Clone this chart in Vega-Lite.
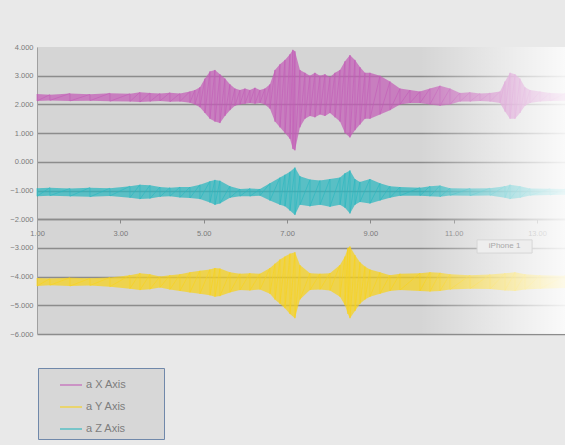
{
  "$schema": "https://vega.github.io/schema/vega-lite/v6.json",
  "width": 528,
  "height": 287,
  "autosize": {"type": "none"},
  "padding": {"left": 37, "top": 47, "right": 0, "bottom": 111},
  "background": "#e9e9e9",
  "config": {
    "font": "Liberation Sans",
    "view": {"stroke": null, "fill": "#d5d5d5"}
  },
  "datasets": {
    "signals": [
      {"s": "a X Axis", "t": 1.00, "hi": 2.36, "lo": 2.12},
      {"s": "a X Axis", "t": 1.31, "hi": 2.34, "lo": 2.14},
      {"s": "a X Axis", "t": 1.79, "hi": 2.38, "lo": 2.12},
      {"s": "a X Axis", "t": 2.27, "hi": 2.35, "lo": 2.13},
      {"s": "a X Axis", "t": 2.75, "hi": 2.39, "lo": 2.11},
      {"s": "a X Axis", "t": 3.23, "hi": 2.37, "lo": 2.10},
      {"s": "a X Axis", "t": 3.47, "hi": 2.42, "lo": 2.08},
      {"s": "a X Axis", "t": 3.71, "hi": 2.40, "lo": 2.10},
      {"s": "a X Axis", "t": 3.95, "hi": 2.38, "lo": 2.12},
      {"s": "a X Axis", "t": 4.19, "hi": 2.41, "lo": 2.09},
      {"s": "a X Axis", "t": 4.43, "hi": 2.38, "lo": 2.10},
      {"s": "a X Axis", "t": 4.67, "hi": 2.45, "lo": 2.06},
      {"s": "a X Axis", "t": 4.79, "hi": 2.50, "lo": 2.00},
      {"s": "a X Axis", "t": 4.91, "hi": 2.60, "lo": 1.90},
      {"s": "a X Axis", "t": 5.03, "hi": 2.90, "lo": 1.70},
      {"s": "a X Axis", "t": 5.15, "hi": 3.15, "lo": 1.50},
      {"s": "a X Axis", "t": 5.27, "hi": 3.20, "lo": 1.40},
      {"s": "a X Axis", "t": 5.39, "hi": 3.05, "lo": 1.35},
      {"s": "a X Axis", "t": 5.51, "hi": 2.90, "lo": 1.60},
      {"s": "a X Axis", "t": 5.63, "hi": 2.70, "lo": 1.80},
      {"s": "a X Axis", "t": 5.75, "hi": 2.55, "lo": 1.95},
      {"s": "a X Axis", "t": 5.87, "hi": 2.50, "lo": 2.00},
      {"s": "a X Axis", "t": 5.99, "hi": 2.55, "lo": 2.02},
      {"s": "a X Axis", "t": 6.11, "hi": 2.50, "lo": 2.05},
      {"s": "a X Axis", "t": 6.23, "hi": 2.58, "lo": 2.02},
      {"s": "a X Axis", "t": 6.35, "hi": 2.50, "lo": 2.05},
      {"s": "a X Axis", "t": 6.47, "hi": 2.55, "lo": 2.00},
      {"s": "a X Axis", "t": 6.59, "hi": 2.70, "lo": 1.85},
      {"s": "a X Axis", "t": 6.71, "hi": 3.20, "lo": 1.40},
      {"s": "a X Axis", "t": 6.83, "hi": 3.40, "lo": 1.20},
      {"s": "a X Axis", "t": 6.95, "hi": 3.55, "lo": 1.00},
      {"s": "a X Axis", "t": 7.07, "hi": 3.75, "lo": 0.80},
      {"s": "a X Axis", "t": 7.14, "hi": 3.90, "lo": 0.45},
      {"s": "a X Axis", "t": 7.19, "hi": 3.85, "lo": 0.40},
      {"s": "a X Axis", "t": 7.31, "hi": 3.20, "lo": 1.20},
      {"s": "a X Axis", "t": 7.43, "hi": 3.10, "lo": 1.50},
      {"s": "a X Axis", "t": 7.55, "hi": 3.00, "lo": 1.60},
      {"s": "a X Axis", "t": 7.67, "hi": 3.10, "lo": 1.55},
      {"s": "a X Axis", "t": 7.79, "hi": 3.00, "lo": 1.65},
      {"s": "a X Axis", "t": 7.91, "hi": 3.05, "lo": 1.60},
      {"s": "a X Axis", "t": 8.03, "hi": 2.95, "lo": 1.70},
      {"s": "a X Axis", "t": 8.15, "hi": 3.10, "lo": 1.55},
      {"s": "a X Axis", "t": 8.27, "hi": 3.20, "lo": 1.40},
      {"s": "a X Axis", "t": 8.39, "hi": 3.50, "lo": 1.00},
      {"s": "a X Axis", "t": 8.51, "hi": 3.72, "lo": 0.85},
      {"s": "a X Axis", "t": 8.63, "hi": 3.55, "lo": 1.10},
      {"s": "a X Axis", "t": 8.75, "hi": 3.30, "lo": 1.30},
      {"s": "a X Axis", "t": 8.87, "hi": 3.10, "lo": 1.50},
      {"s": "a X Axis", "t": 8.99, "hi": 3.10, "lo": 1.50},
      {"s": "a X Axis", "t": 9.23, "hi": 3.00, "lo": 1.65},
      {"s": "a X Axis", "t": 9.47, "hi": 2.80, "lo": 1.80},
      {"s": "a X Axis", "t": 9.71, "hi": 2.55, "lo": 2.00},
      {"s": "a X Axis", "t": 9.95, "hi": 2.50, "lo": 2.05},
      {"s": "a X Axis", "t": 10.19, "hi": 2.45, "lo": 2.05},
      {"s": "a X Axis", "t": 10.43, "hi": 2.55, "lo": 2.00},
      {"s": "a X Axis", "t": 10.67, "hi": 2.65, "lo": 1.95},
      {"s": "a X Axis", "t": 10.91, "hi": 2.55, "lo": 2.00},
      {"s": "a X Axis", "t": 11.15, "hi": 2.40, "lo": 2.10},
      {"s": "a X Axis", "t": 11.39, "hi": 2.42, "lo": 2.10},
      {"s": "a X Axis", "t": 11.63, "hi": 2.38, "lo": 2.12},
      {"s": "a X Axis", "t": 11.87, "hi": 2.40, "lo": 2.10},
      {"s": "a X Axis", "t": 12.11, "hi": 2.45, "lo": 2.05},
      {"s": "a X Axis", "t": 12.23, "hi": 2.80, "lo": 1.75},
      {"s": "a X Axis", "t": 12.35, "hi": 3.10, "lo": 1.50},
      {"s": "a X Axis", "t": 12.47, "hi": 3.05, "lo": 1.50},
      {"s": "a X Axis", "t": 12.59, "hi": 2.90, "lo": 1.70},
      {"s": "a X Axis", "t": 12.71, "hi": 2.60, "lo": 1.95},
      {"s": "a X Axis", "t": 12.83, "hi": 2.50, "lo": 2.05},
      {"s": "a X Axis", "t": 13.07, "hi": 2.45, "lo": 2.10},
      {"s": "a X Axis", "t": 13.31, "hi": 2.40, "lo": 2.12},
      {"s": "a X Axis", "t": 13.67, "hi": 2.38, "lo": 2.13},

      {"s": "a Y Axis", "t": 1.00, "hi": -4.05, "lo": -4.33},
      {"s": "a Y Axis", "t": 1.31, "hi": -4.07, "lo": -4.30},
      {"s": "a Y Axis", "t": 1.79, "hi": -4.04, "lo": -4.33},
      {"s": "a Y Axis", "t": 2.27, "hi": -4.06, "lo": -4.31},
      {"s": "a Y Axis", "t": 2.75, "hi": -4.03, "lo": -4.35},
      {"s": "a Y Axis", "t": 3.23, "hi": -3.95, "lo": -4.42},
      {"s": "a Y Axis", "t": 3.47, "hi": -3.88, "lo": -4.47},
      {"s": "a Y Axis", "t": 3.71, "hi": -3.92, "lo": -4.44},
      {"s": "a Y Axis", "t": 3.95, "hi": -4.00, "lo": -4.38},
      {"s": "a Y Axis", "t": 4.19, "hi": -3.95, "lo": -4.45},
      {"s": "a Y Axis", "t": 4.43, "hi": -3.92, "lo": -4.50},
      {"s": "a Y Axis", "t": 4.67, "hi": -3.85, "lo": -4.55},
      {"s": "a Y Axis", "t": 4.91, "hi": -3.80, "lo": -4.60},
      {"s": "a Y Axis", "t": 5.15, "hi": -3.75, "lo": -4.65},
      {"s": "a Y Axis", "t": 5.27, "hi": -3.70, "lo": -4.70},
      {"s": "a Y Axis", "t": 5.39, "hi": -3.72, "lo": -4.68},
      {"s": "a Y Axis", "t": 5.63, "hi": -3.85, "lo": -4.55},
      {"s": "a Y Axis", "t": 5.87, "hi": -3.90, "lo": -4.47},
      {"s": "a Y Axis", "t": 6.11, "hi": -3.88, "lo": -4.48},
      {"s": "a Y Axis", "t": 6.35, "hi": -3.90, "lo": -4.45},
      {"s": "a Y Axis", "t": 6.59, "hi": -3.70, "lo": -4.60},
      {"s": "a Y Axis", "t": 6.71, "hi": -3.55, "lo": -4.80},
      {"s": "a Y Axis", "t": 6.83, "hi": -3.40, "lo": -4.95},
      {"s": "a Y Axis", "t": 6.95, "hi": -3.30, "lo": -5.10},
      {"s": "a Y Axis", "t": 7.07, "hi": -3.20, "lo": -5.30},
      {"s": "a Y Axis", "t": 7.19, "hi": -3.15, "lo": -5.45},
      {"s": "a Y Axis", "t": 7.31, "hi": -3.60, "lo": -4.80},
      {"s": "a Y Axis", "t": 7.55, "hi": -3.88, "lo": -4.47},
      {"s": "a Y Axis", "t": 7.79, "hi": -3.90, "lo": -4.45},
      {"s": "a Y Axis", "t": 8.03, "hi": -3.88, "lo": -4.48},
      {"s": "a Y Axis", "t": 8.27, "hi": -3.60, "lo": -4.70},
      {"s": "a Y Axis", "t": 8.39, "hi": -3.30, "lo": -5.00},
      {"s": "a Y Axis", "t": 8.46, "hi": -3.00, "lo": -5.30},
      {"s": "a Y Axis", "t": 8.51, "hi": -2.95, "lo": -5.45},
      {"s": "a Y Axis", "t": 8.63, "hi": -3.25, "lo": -5.20},
      {"s": "a Y Axis", "t": 8.75, "hi": -3.50, "lo": -4.95},
      {"s": "a Y Axis", "t": 8.87, "hi": -3.65, "lo": -4.80},
      {"s": "a Y Axis", "t": 8.99, "hi": -3.75, "lo": -4.70},
      {"s": "a Y Axis", "t": 9.23, "hi": -3.85, "lo": -4.60},
      {"s": "a Y Axis", "t": 9.47, "hi": -3.95, "lo": -4.50},
      {"s": "a Y Axis", "t": 9.71, "hi": -3.90, "lo": -4.47},
      {"s": "a Y Axis", "t": 10.19, "hi": -3.88, "lo": -4.50},
      {"s": "a Y Axis", "t": 10.43, "hi": -3.85, "lo": -4.52},
      {"s": "a Y Axis", "t": 10.67, "hi": -3.87, "lo": -4.50},
      {"s": "a Y Axis", "t": 10.91, "hi": -3.92, "lo": -4.45},
      {"s": "a Y Axis", "t": 11.39, "hi": -3.95, "lo": -4.42},
      {"s": "a Y Axis", "t": 11.87, "hi": -3.93, "lo": -4.43},
      {"s": "a Y Axis", "t": 12.23, "hi": -3.88, "lo": -4.48},
      {"s": "a Y Axis", "t": 12.47, "hi": -3.85, "lo": -4.50},
      {"s": "a Y Axis", "t": 12.71, "hi": -3.92, "lo": -4.45},
      {"s": "a Y Axis", "t": 13.07, "hi": -3.95, "lo": -4.42},
      {"s": "a Y Axis", "t": 13.67, "hi": -3.97, "lo": -4.40},

      {"s": "a Z Axis", "t": 1.00, "hi": -0.92, "lo": -1.20},
      {"s": "a Z Axis", "t": 1.31, "hi": -0.90, "lo": -1.18},
      {"s": "a Z Axis", "t": 1.79, "hi": -0.93, "lo": -1.20},
      {"s": "a Z Axis", "t": 2.27, "hi": -0.90, "lo": -1.22},
      {"s": "a Z Axis", "t": 2.75, "hi": -0.92, "lo": -1.19},
      {"s": "a Z Axis", "t": 3.23, "hi": -0.85, "lo": -1.25},
      {"s": "a Z Axis", "t": 3.47, "hi": -0.80, "lo": -1.30},
      {"s": "a Z Axis", "t": 3.71, "hi": -0.82, "lo": -1.28},
      {"s": "a Z Axis", "t": 3.95, "hi": -0.88, "lo": -1.22},
      {"s": "a Z Axis", "t": 4.19, "hi": -0.90, "lo": -1.20},
      {"s": "a Z Axis", "t": 4.43, "hi": -0.88, "lo": -1.24},
      {"s": "a Z Axis", "t": 4.67, "hi": -0.88, "lo": -1.26},
      {"s": "a Z Axis", "t": 4.91, "hi": -0.80, "lo": -1.30},
      {"s": "a Z Axis", "t": 5.15, "hi": -0.68, "lo": -1.42},
      {"s": "a Z Axis", "t": 5.27, "hi": -0.63, "lo": -1.50},
      {"s": "a Z Axis", "t": 5.39, "hi": -0.66, "lo": -1.45},
      {"s": "a Z Axis", "t": 5.63, "hi": -0.85, "lo": -1.25},
      {"s": "a Z Axis", "t": 5.87, "hi": -0.95, "lo": -1.20},
      {"s": "a Z Axis", "t": 6.11, "hi": -0.93, "lo": -1.20},
      {"s": "a Z Axis", "t": 6.35, "hi": -0.95, "lo": -1.18},
      {"s": "a Z Axis", "t": 6.59, "hi": -0.75, "lo": -1.35},
      {"s": "a Z Axis", "t": 6.83, "hi": -0.55, "lo": -1.50},
      {"s": "a Z Axis", "t": 6.95, "hi": -0.45, "lo": -1.55},
      {"s": "a Z Axis", "t": 7.07, "hi": -0.35, "lo": -1.70},
      {"s": "a Z Axis", "t": 7.19, "hi": -0.20, "lo": -1.85},
      {"s": "a Z Axis", "t": 7.31, "hi": -0.50, "lo": -1.50},
      {"s": "a Z Axis", "t": 7.55, "hi": -0.62, "lo": -1.55},
      {"s": "a Z Axis", "t": 7.79, "hi": -0.65, "lo": -1.50},
      {"s": "a Z Axis", "t": 8.03, "hi": -0.60, "lo": -1.57},
      {"s": "a Z Axis", "t": 8.27, "hi": -0.55, "lo": -1.50},
      {"s": "a Z Axis", "t": 8.39, "hi": -0.40, "lo": -1.60},
      {"s": "a Z Axis", "t": 8.51, "hi": -0.30, "lo": -1.80},
      {"s": "a Z Axis", "t": 8.63, "hi": -0.60, "lo": -1.50},
      {"s": "a Z Axis", "t": 8.75, "hi": -0.70, "lo": -1.40},
      {"s": "a Z Axis", "t": 8.99, "hi": -0.60, "lo": -1.45},
      {"s": "a Z Axis", "t": 9.23, "hi": -0.75, "lo": -1.35},
      {"s": "a Z Axis", "t": 9.47, "hi": -0.85, "lo": -1.25},
      {"s": "a Z Axis", "t": 9.71, "hi": -0.88, "lo": -1.18},
      {"s": "a Z Axis", "t": 10.19, "hi": -0.90, "lo": -1.18},
      {"s": "a Z Axis", "t": 10.43, "hi": -0.85, "lo": -1.20},
      {"s": "a Z Axis", "t": 10.67, "hi": -0.83, "lo": -1.22},
      {"s": "a Z Axis", "t": 10.91, "hi": -0.92, "lo": -1.17},
      {"s": "a Z Axis", "t": 11.39, "hi": -0.93, "lo": -1.18},
      {"s": "a Z Axis", "t": 11.87, "hi": -0.92, "lo": -1.17},
      {"s": "a Z Axis", "t": 12.23, "hi": -0.85, "lo": -1.25},
      {"s": "a Z Axis", "t": 12.35, "hi": -0.80, "lo": -1.30},
      {"s": "a Z Axis", "t": 12.59, "hi": -0.85, "lo": -1.25},
      {"s": "a Z Axis", "t": 12.83, "hi": -0.93, "lo": -1.17},
      {"s": "a Z Axis", "t": 13.31, "hi": -0.94, "lo": -1.16},
      {"s": "a Z Axis", "t": 13.67, "hi": -0.95, "lo": -1.15}
    ],
    "one": [{"label": "iPhone 1"}]
  },
  "layer": [
    {
      "data": {"name": "signals"},
      "mark": {"type": "area", "opacity": 0.72},
      "encoding": {
        "x": {
          "field": "t", "type": "quantitative",
          "scale": {"domain": [1, 13.67], "nice": false, "zero": false},
          "axis": {
            "title": null, "values": [1, 3, 5, 7, 9, 11, 13], "tickCount": 20, "format": ".2f",
            "offset": -115, "grid": false,
            "domainColor": "#8c8c8c", "domainWidth": 1.5,
            "ticks": true, "tickSize": 4, "tickColor": "#8a8a8a",
            "labelFontSize": 7.5, "labelColor": "#7a7a7a", "labelPadding": 6,
            "labelFlush": false, "labelOverlap": false
          }
        },
        "y": {
          "field": "hi", "type": "quantitative",
          "scale": {"domain": [-6, 4], "nice": false, "zero": false},
          "axis": {
            "title": null, "values": [-6, -5, -4, -3, -2, -1, 0, 1, 2, 3, 4], "tickCount": 20, "format": ".3f",
            "ticks": false, "domainColor": "#a0a0a0", "labelPadding": 4,
            "labelFontSize": 7.5, "labelColor": "#7a7a7a", "labelOverlap": false,
            "grid": true, "gridColor": "#8c8c8c", "gridWidth": 1.6,
            "gridOpacity": {"condition": {"test": "datum.value == 4", "value": 0}, "value": 1}
          }
        },
        "y2": {"field": "lo"},
        "color": {
          "field": "s", "type": "nominal",
          "scale": {"domain": ["a X Axis", "a Y Axis", "a Z Axis"], "range": ["#c35db7", "#f8d31a", "#2ab7bf"]},
          "legend": {
            "title": null, "orient": "none", "legendX": 1, "legendY": 321,
            "direction": "vertical", "symbolType": "stroke", "symbolSize": 484,
            "symbolStrokeWidth": 2, "symbolOpacity": 0.55, "symbolOffset": 16,
            "labelFontSize": 11, "labelColor": "#7d7d7d", "labelOffset": 3,
            "labelExpr": "datum.label + '\u00a0\u00a0\u00a0\u00a0\u00a0\u00a0\u00a0\u00a0\u2800'",
            "padding": 5, "rowPadding": 5,
            "strokeColor": "#7088aa", "fillColor": "#d7d7d7",
            "encode": {"symbols": {"update": {"stroke": {"scale": "color", "field": "value"}, "strokeWidth": {"value": 2}}}}
          }
        }
      }
    },
    {
      "data": {"name": "signals"},
      "transform": [{"fold": ["hi", "lo"], "as": ["k", "v"]}],
      "mark": {"type": "line", "strokeWidth": 0.7, "opacity": 0.9},
      "encoding": {
        "x": {"field": "t", "type": "quantitative"},
        "y": {"field": "v", "type": "quantitative"},
        "color": {"field": "s", "type": "nominal"},
        "detail": {"field": "s"}
      }
    },
    {
      "data": {"name": "one"},
      "mark": {
        "type": "rect",
        "fill": {
          "gradient": "linear", "x1": 0, "x2": 1, "y1": 0, "y2": 0,
          "stops": [
            {"offset": 0, "color": "rgba(255,255,255,0)"},
            {"offset": 1, "color": "rgba(255,255,255,0.88)"}
          ]
        }
      },
      "encoding": {
        "x": {"datum": 10.2, "type": "quantitative"},
        "x2": {"datum": 13.67},
        "y": {"datum": 4, "type": "quantitative"},
        "y2": {"datum": -6}
      }
    },
    {
      "data": {"name": "one"},
      "mark": {"type": "rect", "fill": "#eeeeee", "stroke": "#d6d6d6", "strokeWidth": 1},
      "encoding": {
        "x": {"datum": 11.56, "type": "quantitative"},
        "x2": {"datum": 12.88},
        "y": {"datum": -2.72, "type": "quantitative"},
        "y2": {"datum": -3.18}
      }
    },
    {
      "data": {"name": "one"},
      "mark": {"type": "text", "fontSize": 8, "color": "#a8a8a8"},
      "encoding": {
        "x": {"datum": 12.22, "type": "quantitative"},
        "y": {"datum": -2.95, "type": "quantitative"},
        "text": {"field": "label"}
      }
    }
  ]
}
